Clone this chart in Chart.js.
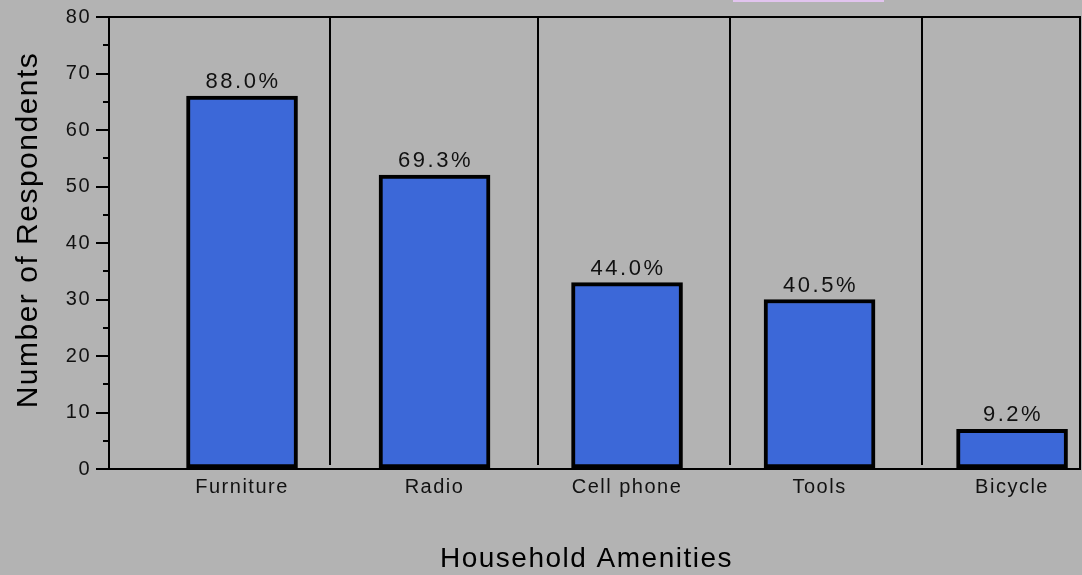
<!DOCTYPE html>
<html>
<head>
<meta charset="utf-8">
<script src="https://cdn.jsdelivr.net/npm/chart.js@4/dist/chart.umd.min.js"></script>
<style>
    html, body { margin: 0; padding: 0; background: #b3b3b3; }
    #wrap { width: 1082px; height: 575px; }
</style>
</head>
<body>
<div id="wrap"><canvas id="chart" width="1082" height="575"></canvas></div>
<script>
// Chart data
const categories = ['Furniture', 'Radio', 'Cell phone', 'Tools', 'Bicycle'];
const respondents = [66, 52, 33, 30, 7];
const shareLabels = ['88.0%', '69.3%', '44.0%', '40.5%', '9.2%'];
const xTitle = 'Household Amenities';
const yTitle = 'Number of Respondents';

const FONT = '"Liberation Sans", Arial, Helvetica, sans-serif';

// Frame, dividers, minor ticks, bar labels and axis titles
const framePlugin = {
    id: 'frame',
    beforeDraw(chart) {
        const ctx = chart.ctx;
        ctx.save();
        ctx.fillStyle = '#b3b3b3';
        ctx.fillRect(0, 0, chart.width, chart.height);
        // cropped box at the top edge
        ctx.fillStyle = '#e2c4ef';
        ctx.fillRect(733, 0, 151, 2);
        ctx.restore();
        // wide-set text like the original
        ctx.letterSpacing = '1.5px';
    },
    beforeDatasetsDraw(chart, args, opts) {
        const ctx = chart.ctx;
        const area = chart.chartArea;
        const x = chart.scales.x;
        const y = chart.scales.y;
        ctx.save();
        ctx.strokeStyle = '#000';
        ctx.lineWidth = 2;

        // top and right edge of the plot box
        ctx.beginPath();
        ctx.moveTo(area.left, area.top);
        ctx.lineTo(area.right, area.top);
        ctx.lineTo(area.right, area.bottom);
        ctx.stroke();

        // vertical dividers between categories
        opts.dividers.forEach(v => {
            const px = Math.round(x.getPixelForValue(v));
            ctx.beginPath();
            ctx.moveTo(px, area.top);
            ctx.lineTo(px, y.getPixelForValue(0.7));
            ctx.stroke();
        });

        // minor ticks halfway between major ticks
        const ticks = y.ticks;
        for (let i = 0; i < ticks.length - 1; i++) {
            const mid = (ticks[i].value + ticks[i + 1].value) / 2;
            const py = Math.round(y.getPixelForValue(mid));
            ctx.beginPath();
            ctx.moveTo(area.left - 6, py);
            ctx.lineTo(area.left, py);
            ctx.stroke();
        }
        ctx.restore();
    },
    afterDatasetsDraw(chart) {
        const ctx = chart.ctx;
        const meta = chart.getDatasetMeta(0);
        ctx.save();
        ctx.font = '22px ' + FONT;
        ctx.letterSpacing = '2.5px';
        ctx.fillStyle = '#111';
        ctx.textAlign = 'center';
        ctx.textBaseline = 'alphabetic';
        meta.data.forEach((bar, i) => {
            ctx.fillText(shareLabels[i], bar.x + 1, bar.y - 8);
        });
        ctx.restore();
    },
    afterDraw(chart) {
        const ctx = chart.ctx;
        const area = chart.chartArea;
        ctx.save();
        ctx.fillStyle = '#000';
        ctx.textAlign = 'center';
        ctx.textBaseline = 'alphabetic';
        ctx.letterSpacing = '1.5px';

        ctx.font = '28px ' + FONT;
        ctx.fillText(xTitle, (area.left + area.right) / 2 - 8, 567);

        ctx.font = '30px ' + FONT;
        ctx.translate(37, (area.top + area.bottom) / 2 - 13);
        ctx.rotate(-Math.PI / 2);
        ctx.fillText(yTitle, 0, 0);
        ctx.restore();
    }
};

const ctx = document.getElementById('chart').getContext('2d');

new Chart(ctx, {
    type: 'bar',
    data: {
        datasets: [{
            data: categories.map((c, i) => ({ x: i, y: respondents[i] })),
            backgroundColor: '#3c68d8',
            borderColor: '#000',
            borderWidth: 4,
            borderSkipped: false,
            barThickness: 111
        }]
    },
    options: {
        responsive: false,
        animation: false,
        layout: {
            padding: { top: 14, right: 2, left: 0, bottom: 0 }
        },
        plugins: {
            legend: { display: false },
            tooltip: { enabled: false },
            frame: {
                dividers: [0.457, 1.538, 2.535, 3.532]
            }
        },
        scales: {
            x: {
                type: 'linear',
                offset: false,
                min: -0.691,
                max: 4.353,
                afterBuildTicks: scale => {
                    scale.ticks = categories.map((c, i) => ({ value: i }));
                },
                afterFit: scale => { scale.height = 106; },
                grid: { display: false, drawTicks: false },
                border: { display: true, color: '#000', width: 2 },
                ticks: {
                    autoSkip: false,
                    maxRotation: 0,
                    padding: 6,
                    color: '#111',
                    font: { family: FONT, size: 20 },
                    callback: value => categories[value]
                }
            },
            y: {
                min: 0,
                max: 80,
                afterFit: scale => { scale.width = 109; },
                ticks: {
                    stepSize: 10,
                    padding: 5,
                    color: '#111',
                    font: { family: FONT, size: 20 }
                },
                grid: {
                    drawOnChartArea: false,
                    tickLength: 13,
                    tickColor: '#000',
                    lineWidth: 2
                },
                border: { display: true, color: '#000', width: 2 }
            }
        }
    },
    plugins: [framePlugin]
});
</script>
</body>
</html>
